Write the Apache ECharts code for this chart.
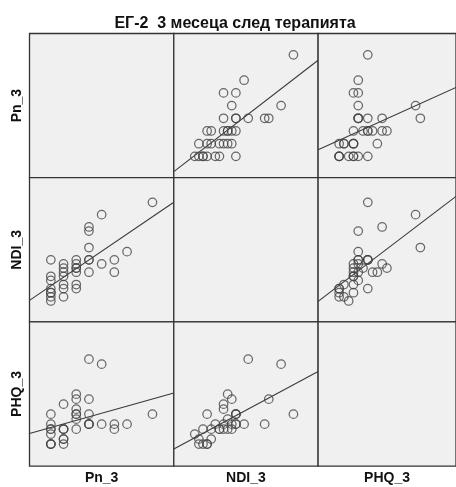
<!DOCTYPE html>
<html>
<head>
<meta charset="utf-8">
<script src="https://cdn.jsdelivr.net/npm/echarts@6/dist/echarts.min.js"></script>
<style>
  html, body { margin: 0; padding: 0; background: #ffffff; }
  #chart { width: 456px; height: 487px; }
</style>
</head>
<body>
<div id="chart"></div>
<script>
// Scatterplot matrix: pain, neck disability and depression scores 3 months after therapy
const chartTitle = 'ЕГ-2  3 месеца след терапията';
const varNames = ['Pn_3', 'NDI_3', 'PHQ_3'];

// One entry per patient
const pn3  = [1, 1, 1, 1, 1, 1, 1, 1,  2, 2, 2, 2, 2, 2, 2,  3, 3, 3, 3, 3, 3, 3,  4, 4, 4, 4, 4, 4,  5, 5,  6, 6,  7,  9];
const ndi3 = [2, 3, 4, 5, 4, 7, 8, 12, 3, 5, 6, 8, 9, 10, 11, 5, 6, 9, 10, 10, 11, 12, 20, 19, 15, 12, 12, 9, 23, 11, 12, 9, 14, 26];
const phq3 = [3, 1, 1, 1, 4, 5, 4, 7,  2, 1, 2, 4, 9, 4, 4,  7, 4, 8, 11, 6, 10, 7,  10, 5, 18, 7, 5, 5,  17, 5,  5, 4,  5,  7];

// Scale extent of each variable (shared by its row and column)
const pnRange  = [-0.68, 10.68];
const ndiRange = [-3.1, 32.0];
const phqRange = [-3.4, 25.46];

const columns = [pn3, ndi3, phq3];
const ranges = [pnRange, ndiRange, phqRange];

// Ordinary least squares fit of y on x
function fit(xs, ys) {
  const n = xs.length;
  let sx = 0, sy = 0, sxx = 0, sxy = 0;
  for (let i = 0; i < n; i++) {
    sx += xs[i]; sy += ys[i];
    sxx += xs[i] * xs[i]; sxy += xs[i] * ys[i];
  }
  const b = (sxy - sx * sy / n) / (sxx - sx * sx / n);
  const a = sy / n - b * sx / n;
  return { a, b };
}

const LEFT = 29.5, TOP = 33.5, CELL_W = 144.3, CELL_H = 144.2;
const FONT = '"Liberation Sans", Arial, sans-serif';

const grids = [], xAxes = [], yAxes = [], series = [];
for (let r = 0; r < 3; r++) {
  for (let c = 0; c < 3; c++) {
    const k = r * 3 + c;
    grids.push({
      left: LEFT + c * CELL_W,
      top: TOP + r * CELL_H,
      width: CELL_W,
      height: CELL_H,
      show: true,
      backgroundColor: '#f0f0f0',
      borderColor: '#333333',
      borderWidth: 1.3
    });
    xAxes.push({
      type: 'value', gridIndex: k,
      min: ranges[c][0], max: ranges[c][1],
      axisLine: { show: false }, axisTick: { show: false },
      axisLabel: { show: false }, splitLine: { show: false },
      name: r === 2 ? varNames[c] : '',
      nameLocation: 'middle', nameGap: 5,
      nameTextStyle: { fontFamily: FONT, fontWeight: 'bold', fontSize: 14, color: '#111' }
    });
    yAxes.push({
      type: 'value', gridIndex: k,
      min: ranges[r][0], max: ranges[r][1],
      axisLine: { show: false }, axisTick: { show: false },
      axisLabel: { show: false }, splitLine: { show: false },
      name: c === 0 ? varNames[r] : '',
      nameLocation: 'middle', nameGap: 5,
      nameTextStyle: { fontFamily: FONT, fontWeight: 'bold', fontSize: 14, color: '#111' }
    });
    if (r === c) continue;
    const xs = columns[c], ys = columns[r];
    series.push({
      type: 'scatter', xAxisIndex: k, yAxisIndex: k,
      symbol: 'circle', symbolSize: 8.5,
      itemStyle: { color: 'rgba(0,0,0,0)', borderColor: '#454545', borderWidth: 1.25 },
      data: xs.map((x, i) => [x, ys[i]]),
      silent: true, z: 3
    });
    const { a, b } = fit(xs, ys);
    const x0 = ranges[c][0], x1 = ranges[c][1];
    series.push({
      type: 'line', xAxisIndex: k, yAxisIndex: k,
      data: [[x0, a + b * x0], [x1, a + b * x1]],
      symbol: 'none', clip: true, silent: true,
      lineStyle: { color: '#3a3a3a', width: 1.1 }, z: 2
    });
  }
}

const chart = echarts.init(document.getElementById('chart'), null, { renderer: 'canvas' });
chart.setOption({
  animation: false,
  backgroundColor: '#ffffff',
  title: {
    text: chartTitle,
    left: 230, top: 11, textAlign: 'center',
    textStyle: { fontFamily: FONT, fontWeight: 'bold', fontSize: 16, color: '#111' }
  },
  grid: grids,
  xAxis: xAxes,
  yAxis: yAxes,
  series: series
});
</script>
</body>
</html>
